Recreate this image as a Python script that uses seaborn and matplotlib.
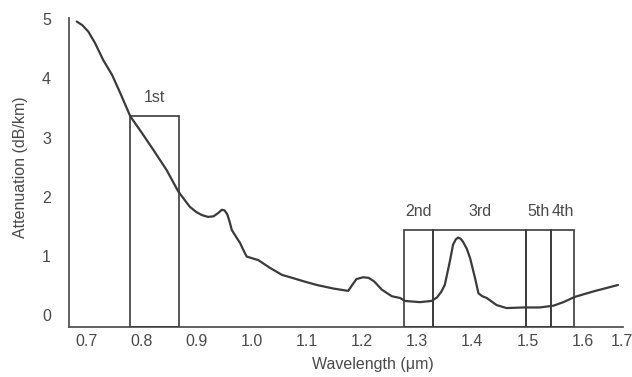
import matplotlib
matplotlib.use("Agg")
import matplotlib.pyplot as plt
from matplotlib.patches import Rectangle
import seaborn as sns
import pandas as pd

# ---- data ----
wavelength = [0.683, 0.693, 0.704, 0.716, 0.731, 0.747, 0.762, 0.780, 0.801, 0.822,
              0.846, 0.867, 0.888, 0.900, 0.910, 0.921, 0.931, 0.940, 0.946, 0.951,
              0.956, 0.960, 0.964, 0.972, 0.979, 0.986, 0.991, 1.012, 1.033, 1.055,
              1.070, 1.095, 1.118, 1.148, 1.175, 1.183, 1.190, 1.202, 1.212, 1.222,
              1.236, 1.254, 1.269, 1.278, 1.305, 1.326, 1.336, 1.344, 1.350, 1.359,
              1.365, 1.370, 1.374, 1.379, 1.383, 1.390, 1.396, 1.405, 1.411, 1.418,
              1.426, 1.444, 1.462, 1.492, 1.522, 1.547, 1.565, 1.586, 1.619, 1.664]
attenuation = [4.96, 4.90, 4.79, 4.60, 4.31, 4.06, 3.75, 3.36, 3.08, 2.79,
               2.45, 2.09, 1.83, 1.74, 1.69, 1.66, 1.67, 1.73, 1.78, 1.77,
               1.70, 1.58, 1.44, 1.32, 1.22, 1.08, 0.99, 0.93, 0.80, 0.68,
               0.64, 0.57, 0.51, 0.45, 0.41, 0.52, 0.61, 0.64, 0.63, 0.57,
               0.43, 0.32, 0.29, 0.24, 0.22, 0.24, 0.30, 0.40, 0.51, 0.90,
               1.19, 1.28, 1.31, 1.29, 1.24, 1.12, 0.96, 0.62, 0.37, 0.32,
               0.29, 0.17, 0.12, 0.13, 0.13, 0.16, 0.22, 0.31, 0.40, 0.51]

window_names = ["1st", "2nd", "3rd", "5th", "4th"]
window_start = [0.780, 1.276, 1.329, 1.497, 1.542]
window_end = [0.868, 1.329, 1.497, 1.542, 1.585]
window_top = [3.36, 1.44, 1.44, 1.44, 1.44]

x_ticks = [0.7, 0.8, 0.9, 1.0, 1.1, 1.2, 1.3, 1.4, 1.5, 1.6]
x_tick_labels = ["0.7", "0.8", "0.9", "1.0", "1.1", "1.2", "1.3", "1.4", "1.5", "1.6"]
last_x_label = "1.7"
y_ticks = [0, 1, 2, 3, 4, 5]

# ---- style ----
sns.set_theme(style="white")
plt.rcParams["font.family"] = ["Liberation Sans", "DejaVu Sans"]
ink = "#3b3b3b"
text_col = "#4a4a4a"
fs = 11.5

fig = plt.figure(figsize=(6.32, 3.77), dpi=100)
ax = fig.add_axes([69 / 632, 50 / 377, 554 / 632, 309 / 377])

df = pd.DataFrame({"Wavelength": wavelength, "Attenuation": attenuation})
sns.lineplot(data=df, x="Wavelength", y="Attenuation", ax=ax, color=ink,
             linewidth=1.6, sort=False, estimator=None)
for ln in ax.lines:
    ln.set_solid_joinstyle("round")
    ln.set_solid_capstyle("round")

ymin, ymax = -0.2, 5.02
ax.set_xlim(0.669, 1.673)
ax.set_ylim(ymin, ymax)

for name, x0, x1, top in zip(window_names, window_start, window_end, window_top):
    ax.add_patch(Rectangle((x0, ymin), x1 - x0, top - ymin, fill=False,
                           edgecolor=ink, linewidth=1.2, zorder=3))
    ax.annotate(name, xy=((x0 + x1) / 2, top), xytext=(0, 13.5),
                textcoords="offset points", ha="center", va="center",
                fontsize=fs, color=text_col)

ax.set_xticks(x_ticks)
ax.set_xticklabels(x_tick_labels)
ax.set_yticks(y_ticks)
ax.tick_params(axis="x", length=0, pad=5, labelsize=fs, labelcolor=text_col)
ax.tick_params(axis="y", length=0, pad=13, labelsize=fs, labelcolor=text_col)
ax.annotate(last_x_label, xy=(1, 0), xycoords="axes fraction",
            xytext=(-1, -5), textcoords="offset points", ha="center", va="top",
            fontsize=fs, color=text_col, annotation_clip=False)

ax.set_xlabel("Wavelength (μm)", fontsize=fs, color=text_col)
ax.set_ylabel("Attenuation (dB/km)", fontsize=fs, color=text_col)
ax.xaxis.set_label_coords(0.549, -0.098)
ax.yaxis.set_label_coords(-0.074, 0.518)

for side in ["top", "right"]:
    ax.spines[side].set_visible(False)
for side in ["left", "bottom"]:
    ax.spines[side].set_color("#555555")
    ax.spines[side].set_linewidth(1.3)

fig.savefig("out.png", dpi=100, facecolor="white")
